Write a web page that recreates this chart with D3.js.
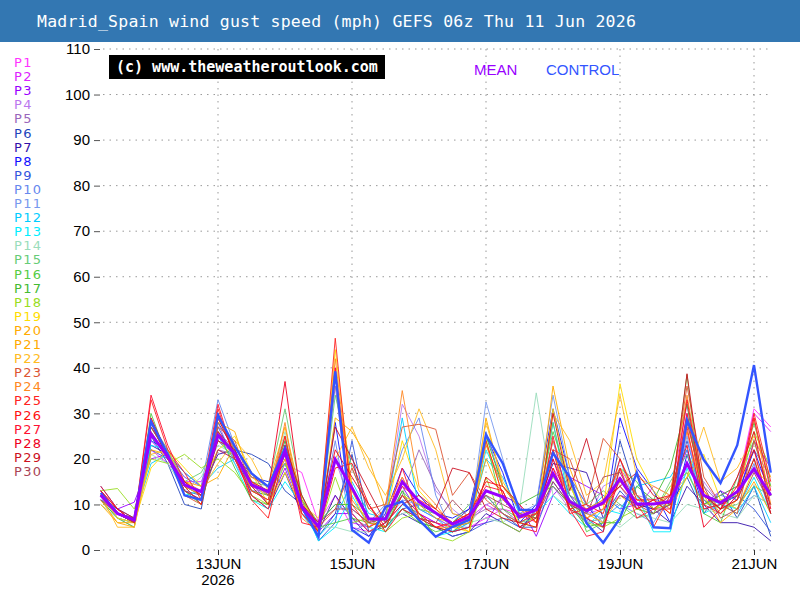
<!DOCTYPE html>
<html>
<head>
<meta charset="utf-8">
<script src="https://cdn.jsdelivr.net/npm/d3@7"></script>
<style>
  body { margin: 0; background: #fff; }
  svg { display: block; }
</style>
</head>
<body>
<div id="chart"></div>
<script>
// title and labels
const titleText = 'Madrid_Spain wind gust speed (mph) GEFS 06z Thu 11 Jun 2026';
const copyrightText = '(c) www.theweatheroutlook.com';

// first forecast step and step length (hours)
const startTime = Date.UTC(2026, 5, 11, 6);
const stepHours = 6;

// x tick days (00z) and y ticks
const dayTicks = [Date.UTC(2026, 5, 13), Date.UTC(2026, 5, 15), Date.UTC(2026, 5, 17), Date.UTC(2026, 5, 19), Date.UTC(2026, 5, 21)];
const yTicks = [0, 10, 20, 30, 40, 50, 60, 70, 80, 90, 100, 110];

// member names and colours
const memberNames = d3.range(1, 31).map(function (i) { return 'P' + i; });
const memberColors = [
    '#ff33ff', '#dd22ff', '#9900ff', '#bb77ee', '#9966bb',
    '#2244bb', '#3311aa', '#1111ff', '#3355dd', '#6688ee',
    '#7799ee', '#00ccff', '#00eeff', '#99ddbb', '#66cc77',
    '#55cc44', '#44bb33', '#99dd22', '#ffdd00', '#ffaa00',
    '#ffaa00', '#ffbb22', '#dd5533', '#ff8822', '#ff2222',
    '#ff1111', '#ff1133', '#ee0022', '#cc1122', '#aa4455'
];

// wind gust values (mph), one row per member, 6-hourly from 11 Jun 06z
const members = [
    [13, 9, 7, 24, 20, 16, 14, 22, 20, 16, 14, 19, 17, 6, 12, 5, 4, 6, 10, 8, 6, 4, 5, 7, 9, 8, 6, 14, 10, 8, 9, 12, 11, 10, 11, 26, 10, 12, 14, 31, 27],
    [12, 8, 7, 22, 19, 15, 15, 24, 21, 15, 12, 21, 9, 5, 40, 6, 5, 9, 16, 9, 7, 5, 7, 10, 8, 6, 8, 18, 12, 9, 10, 18, 9, 14, 12, 32, 12, 9, 13, 30, 26],
    [11, 9, 10.5, 20, 21, 17, 14, 26, 22, 15, 10, 18, 8, 4, 8, 8, 4, 6, 14, 8, 6, 4, 5, 6, 12, 10, 3, 12, 16, 14, 12, 9, 10, 9, 12, 22, 10, 13, 11, 24, 18],
    [12, 8, 6, 27, 22, 13, 11, 28, 19, 13, 13, 24, 10, 4, 20, 9, 6, 8, 32, 25, 13, 9, 6, 10, 11, 8, 9, 14, 9, 6, 14, 16, 12, 11, 9, 19, 15, 10, 12, 20, 14],
    [13, 7, 6, 26, 20, 14, 12, 22, 21, 14, 12, 20, 8, 5, 36, 7, 5, 7, 12, 22, 14, 8, 7, 9, 9, 6, 8, 20, 11, 9, 11, 14, 9, 11, 10, 30, 14, 10, 12, 22, 16],
    [14, 9, 6, 25, 19, 10, 9, 28, 22, 21, 19, 13, 10, 3, 8, 21, 4, 5, 9, 10, 8, 6, 9, 12, 8, 5, 8, 22, 12, 7, 4, 24, 12, 8, 10, 16, 8, 13, 7, 14, 3],
    [12, 8, 6, 23, 21, 14, 13, 21, 22, 12, 9, 17, 8, 4, 12, 7, 3, 6, 8, 6, 5, 3, 4, 8, 6, 4, 9, 19, 18, 17, 7, 12, 10, 9, 6, 14, 10, 6, 6, 5, 2],
    [13, 8, 7, 24, 22, 12, 11, 30, 21, 16, 15, 19, 9, 3, 28, 5, 3, 8, 18, 12, 8, 7, 9, 25, 17, 6, 10, 31, 16, 10, 5, 29, 18, 13, 6, 21, 9, 10, 12, 22, 12],
    [11, 7, 6, 22, 20, 13, 12, 27, 20, 14, 13, 21, 11, 2, 6, 24, 6, 5, 9, 7, 5, 3, 4, 6, 7, 5, 5, 15, 10, 6, 7, 13, 9, 8, 10, 24, 11, 8, 12, 9, 4],
    [12, 8, 6, 25, 21, 16, 14, 33, 23, 17, 14, 22, 12, 4, 24, 4, 6, 10, 22, 29, 12, 4, 6, 26, 14, 9, 8, 24, 10, 8, 7, 10, 8, 6, 12, 17, 10, 12, 11, 19, 8],
    [12, 7, 5, 24, 21, 14, 13, 26, 20, 15, 12, 19, 9, 6, 10, 8, 4, 6, 11, 10, 7, 5, 5, 32.5, 20, 8, 10, 34, 16, 10, 6, 20, 9, 8, 10, 25, 9, 11, 9, 12, 10],
    [11, 9, 7, 19, 21, 17, 14, 18, 20, 13, 11, 22, 8, 3, 7, 15, 8, 7, 29, 9, 7, 4, 6, 20, 16, 8, 7, 28, 10, 8, 12, 9, 14, 15, 16, 22, 12, 10, 8, 14, 6],
    [12, 8, 7, 23, 22, 12, 13, 25, 19, 11, 9, 15, 10, 2, 5, 12, 5, 4, 10, 8, 3, 4, 5, 22, 14, 9, 8, 12, 8, 5, 9, 8, 12, 4, 4, 18, 8, 10, 9, 16, 8],
    [10, 7, 6, 21, 19, 13, 16, 23, 21, 15, 13, 26, 11, 5, 5, 4, 4, 6, 8, 9, 8, 5, 6, 7, 6, 9, 34.5, 12, 9, 6, 7, 5, 8, 7, 6, 10, 9, 8, 7, 12, 10],
    [12, 8, 7, 28, 22, 15, 17, 24, 20, 15, 14, 31, 12, 4, 34, 18, 9, 6, 13, 9, 8, 6, 10, 12, 8, 6, 7, 28, 12, 10, 13, 10, 7, 8, 15, 21, 11, 9, 10, 14, 12],
    [11, 7, 5, 30, 20, 14, 12, 26, 18, 11, 10, 22, 10, 5, 6, 7, 6, 5, 9, 6, 4, 5, 6, 24, 9, 7, 9, 26, 15, 4, 6, 18, 15, 9, 10, 38.5, 8, 6, 16, 24, 12],
    [12, 8, 6, 27, 21, 13, 10, 25, 22, 13, 12, 24, 11, 6, 10, 10, 7, 5, 13, 6, 5, 4, 7, 25, 14, 10, 12, 14, 10, 5, 6, 6, 14, 11, 18, 32, 10, 12, 14, 28, 14],
    [13, 13.5, 9, 20, 19, 21, 18, 20, 17, 12, 10, 19, 12, 4, 16, 6, 7, 4, 7, 8, 3, 2, 4, 16, 6, 4, 8, 16, 11, 6, 5, 7, 9, 8, 14, 17, 10, 11, 12, 26, 18],
    [12, 7, 6, 18, 22, 18, 14, 22, 25, 17, 10, 17, 9, 5, 44, 13, 5, 7, 24, 13, 9, 5, 4, 24, 12, 6, 5, 31, 14, 7, 9, 36.5, 20, 13, 9, 16, 21, 11, 9, 18, 14],
    [10, 6, 5, 22, 21, 15, 13, 28, 26, 15, 12, 20, 8, 4, 38, 14, 6, 5, 12, 10, 7, 6, 4, 29, 14, 9, 6, 36, 18, 8, 6, 12, 9, 11, 8, 28, 13, 8, 11, 20, 10],
    [11, 6, 6, 26, 20, 15, 14, 16, 23, 16, 14, 27, 11, 4, 29, 26, 20, 9, 16, 8, 5, 5, 7, 20, 11, 8, 7, 22, 10, 9, 11, 18, 12, 9, 11, 26, 12, 6, 9, 15, 8],
    [12, 5, 5, 21, 22, 14, 13, 19, 24, 20, 13, 22, 10, 7, 20, 27, 18, 12, 20, 31, 22, 8, 7, 28, 15, 9, 6, 30, 24, 12, 15, 34, 16, 14, 12, 16, 27, 15, 18, 25, 16],
    [13, 9, 6, 27, 21, 12, 10, 27, 24, 14, 13, 25, 9, 5, 9, 18, 9, 10, 27, 27.6, 26.5, 12, 17, 11, 8, 6, 8, 22, 20, 10, 24.5, 20, 12, 9, 12, 36, 16, 10, 8, 24, 12],
    [12, 8, 6, 29, 20, 14, 12, 29, 22, 13, 11, 28, 7, 4, 42, 11, 6, 9, 35, 14, 10, 5, 6, 23, 14, 9, 8, 24, 15, 7, 9, 15, 11, 10, 12, 34, 13, 9, 11, 29, 10],
    [13, 9, 6, 33, 22, 17, 11, 31, 20, 13, 11, 25, 8, 4, 46.5, 10, 5, 7, 14, 11, 9, 6, 8, 24, 12, 7, 8, 22, 8, 9, 10, 14, 10, 5, 12, 27, 9, 10, 13, 30, 15],
    [12, 8, 7, 28, 20, 14, 10, 26, 21, 11, 7, 22, 9, 4, 18, 19, 10, 4, 9, 7, 5, 6, 8, 15, 14, 10, 6, 18, 9, 10, 8, 20, 11, 11, 8, 33, 12, 9, 14, 22, 8],
    [14, 9, 6, 34, 23, 15, 12, 32, 20, 12, 9, 23, 6, 5, 40, 8, 4, 6, 18, 7, 6, 5, 8, 14, 13, 5, 4, 25, 9, 3, 4, 18, 7, 9, 9, 30, 10, 8, 12, 29, 13],
    [13, 8, 6, 29, 21, 13, 11, 29, 21, 15, 13, 37, 10, 6, 22, 16, 10, 5, 12, 8, 5, 4, 5, 16, 13, 5, 7, 20, 9, 7, 5, 16, 9, 11, 12, 23, 5, 9, 16, 26, 9],
    [12, 9, 7, 28, 20, 15, 12, 24, 22, 14, 10, 23, 12, 5, 27, 20, 13, 6, 10, 12, 9, 18, 17, 9, 7, 6, 5, 30, 13, 24.5, 11, 14, 17, 12, 10, 38.7, 12, 9, 11, 20, 8],
    [11, 8, 6, 27, 21, 13, 11, 22, 20, 17, 12, 21, 9, 6, 9, 9, 6, 7, 12, 7, 6, 11, 7, 12, 10, 8, 7, 15, 10, 8, 16, 17, 10, 8, 10, 28, 14, 7, 9, 17, 10]
];

// ensemble mean and control run
const meanVals = [12, 8, 6.6, 25.5, 20.5, 14.3, 12.8, 25.2, 21.2, 14.3, 12.8, 21.6, 9.5, 5.1, 19.9, 13.6, 6.8, 6.8, 15, 10.6, 8.1, 5.7, 7.3, 13, 11.7, 7.3, 8.8, 16.8, 10.6, 8.6, 10.4, 15.6, 10.1, 10.1, 10.6, 19, 12, 10.4, 12.8, 17.8, 12];
const controlVals = [12.5, 8, 6.6, 28.2, 21, 12, 11, 29.6, 22.7, 16.8, 13.9, 22.4, 9.5, 2.9, 39.2, 4.4, 1.6, 9.5, 10.6, 6.6, 2.9, 5.1, 6.6, 25.3, 19, 8.8, 8.8, 21.3, 16, 5.9, 1.6, 7, 17, 5, 4.8, 28.5, 19.8, 14.7, 23, 40.6, 17];

// layout
const W = 800, H = 600;
const plotLeft = 100.75, plotRight = 770.75;
const plotTop = 49, plotBottom = 550;

const svg = d3.select('#chart').append('svg')
    .attr('width', W)
    .attr('height', H);

// title bar
svg.append('rect')
    .attr('x', 0).attr('y', 0)
    .attr('width', W).attr('height', 42)
    .attr('fill', '#3377b2');
svg.append('text')
    .attr('x', 37).attr('y', 27)
    .attr('fill', '#fff')
    .style('font-family', 'DejaVu Sans Mono')
    .style('font-size', '16.5px')
    .style('letter-spacing', '0.22px')
    .text(titleText);

// scales
const times = d3.range(meanVals.length).map(function (i) { return new Date(startTime + i * stepHours * 3600000); });
const x = d3.scaleUtc()
    .domain([times[0], times[times.length - 1]])
    .range([plotLeft, plotRight]);
const y = d3.scaleLinear()
    .domain([0, 110])
    .range([plotBottom, plotTop]);

// horizontal grid
svg.append('g')
    .selectAll('line')
    .data(yTicks)
    .join('line')
    .attr('x1', 103).attr('x2', plotRight)
    .attr('y1', function (d) { return y(d); })
    .attr('y2', function (d) { return y(d); })
    .attr('stroke', '#999')
    .attr('stroke-width', 1)
    .attr('stroke-dasharray', '1.5,5');

// vertical grid
svg.append('g')
    .selectAll('line')
    .data(dayTicks)
    .join('line')
    .attr('x1', function (d) { return x(new Date(d)); })
    .attr('x2', function (d) { return x(new Date(d)); })
    .attr('y1', plotTop).attr('y2', plotBottom)
    .attr('stroke', '#999')
    .attr('stroke-width', 1)
    .attr('stroke-dasharray', '1.5,5');

// y axis (ticks + labels, no domain line)
const yAxis = svg.append('g')
    .attr('transform', 'translate(100,0)')
    .call(d3.axisLeft(y).tickValues(yTicks).tickSize(6).tickPadding(4));
yAxis.select('.domain').remove();
yAxis.selectAll('text')
    .attr('fill', '#000')
    .style('font-family', 'Liberation Sans')
    .style('font-size', '15px');
yAxis.selectAll('line').attr('stroke', '#555');

// x axis
const fmtDay = function (d) { return d3.utcFormat('%d')(d) + d3.utcFormat('%b')(d).toUpperCase(); };
const xAxis = svg.append('g')
    .attr('transform', 'translate(0,' + plotBottom + ')')
    .call(d3.axisBottom(x).tickValues(dayTicks.map(function (d) { return new Date(d); })).tickFormat(fmtDay).tickSize(5).tickPadding(3));
xAxis.select('.domain').remove();
xAxis.selectAll('line').attr('stroke', '#333');
xAxis.selectAll('text')
    .attr('fill', '#000')
    .style('font-family', 'Liberation Sans')
    .style('font-size', '15px');
svg.append('text')
    .attr('x', x(new Date(dayTicks[0])))
    .attr('y', 585)
    .attr('text-anchor', 'middle')
    .style('font-family', 'Liberation Sans')
    .style('font-size', '15px')
    .text('2026');

// lines
const line = d3.line()
    .x(function (d, i) { return x(times[i]); })
    .y(function (d) { return y(d); });

svg.append('g')
    .selectAll('path')
    .data(members)
    .join('path')
    .attr('d', line)
    .attr('fill', 'none')
    .attr('stroke', function (d, i) { return memberColors[i]; })
    .attr('stroke-width', 0.9);

svg.append('path')
    .datum(controlVals)
    .attr('d', line)
    .attr('fill', 'none')
    .attr('stroke', '#3355ff')
    .attr('stroke-width', 2.4);

svg.append('path')
    .datum(meanVals)
    .attr('d', line)
    .attr('fill', 'none')
    .attr('stroke', '#9900ff')
    .attr('stroke-width', 3);

// member legend
svg.append('g')
    .selectAll('text')
    .data(memberNames)
    .join('text')
    .attr('x', 14)
    .attr('y', function (d, i) { return 67 + i * 14.1; })
    .attr('fill', function (d, i) { return memberColors[i]; })
    .style('font-family', 'DejaVu Sans')
    .style('font-size', '13px')
    .style('letter-spacing', '1.3px')
    .text(function (d) { return d; });

// copyright box
svg.append('rect')
    .attr('x', 109).attr('y', 55)
    .attr('width', 276).attr('height', 24)
    .attr('fill', '#000');
svg.append('text')
    .attr('x', 116).attr('y', 72)
    .attr('fill', '#fff')
    .style('font-family', 'DejaVu Sans Mono')
    .style('font-weight', 'bold')
    .style('font-size', '15px')
    .text(copyrightText);

// mean / control labels
svg.append('text')
    .attr('x', 474).attr('y', 75)
    .attr('fill', '#9900ff')
    .style('font-family', 'Liberation Sans')
    .style('font-size', '15px')
    .text('MEAN');
svg.append('text')
    .attr('x', 546).attr('y', 75)
    .attr('fill', '#3355ff')
    .style('font-family', 'Liberation Sans')
    .style('font-size', '15px')
    .text('CONTROL');
</script>
</body>
</html>
